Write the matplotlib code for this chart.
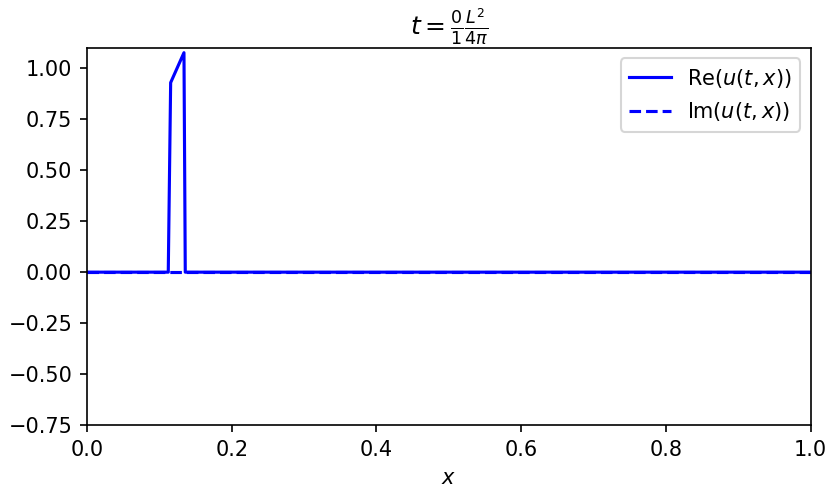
import matplotlib
matplotlib.use("Agg")
import matplotlib.pyplot as plt
import numpy as np

# Samples (snapshot at t = 0)
x_vals = [0.0, 0.1123, 0.1156, 0.1340, 0.1358, 1.0]
re_vals = [0.0, 0.0, 0.93, 1.077, 0.0, 0.0]
im_vals = [0.0, 0.0, 0.0, 0.0, 0.0, 0.0]

title_text = r"$t=\frac{0}{1}\frac{L^2}{4\pi}$"
x_label = "$x$"
legend_labels = [r"Re$(u(t,x))$", r"Im$(u(t,x))$"]

fig = plt.figure(figsize=(830 / 150, 498 / 150), dpi=150)
ax = fig.add_axes([0.1048, 0.1466, 0.872, 0.757])

x = np.array(x_vals)
ax.plot(x, re_vals, color="b", linestyle="-", linewidth=1.5, label=legend_labels[0])
ax.plot(x, im_vals, color="b", linestyle="--", linewidth=1.5, label=legend_labels[1])

ax.set_xlim(0.0, 1.0)
ax.set_ylim(-0.75, 1.1)
ax.set_yticks([-0.75, -0.5, -0.25, 0.0, 0.25, 0.5, 0.75, 1.0])
ax.set_xlabel(x_label)
ax.set_title(title_text)
ax.legend(loc="upper right")

fig.savefig("out.png", dpi=150)
